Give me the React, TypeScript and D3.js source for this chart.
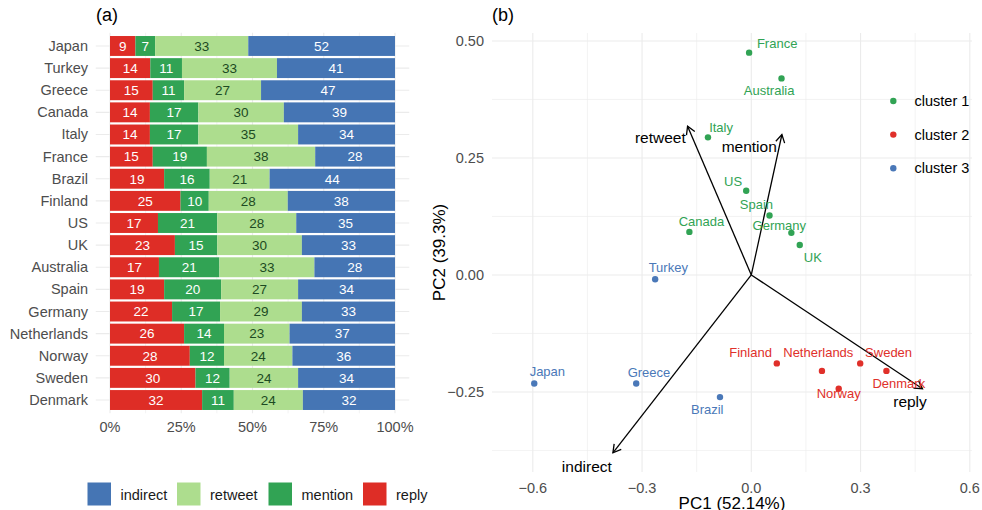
import React from "react";
import * as d3 from "d3";

const countries = ["Japan","Turkey","Greece","Canada","Italy","France","Brazil","Finland","US","UK","Australia","Spain","Germany","Netherlands","Norway","Sweden","Denmark"];
const reply = [9,14,15,14,14,15,19,25,17,23,17,19,22,26,28,30,32];
const mention = [7,11,11,17,17,19,16,10,21,15,21,20,17,14,12,12,11];
const retweet = [33,33,27,30,35,38,21,28,28,30,33,27,29,23,24,24,24];
const indirect = [52,41,47,39,34,28,44,38,35,33,28,34,33,37,36,34,32];
const xTicksA = [0, 0.25, 0.5, 0.75, 1];
const xTickLabelsA = ["0%","25%","50%","75%","100%"];

const seriesNames = ["reply","mention","retweet","indirect"];
const seriesColors = ["#de2d26","#31a354","#addd8e","#4575b4"];
const labelColors = ["#ffffff","#ffffff","#1c4a22","#ffffff"];
const legendOrder = ["indirect","retweet","mention","reply"];

// PCA biplot
const pcaNames = ["France","Australia","Italy","US","Spain","Germany","UK","Canada","Turkey","Japan","Greece","Brazil","Finland","Netherlands","Sweden","Norway","Denmark"];
const pc1 = [-0.006,0.083,-0.119,-0.014,0.050,0.110,0.133,-0.170,-0.264,-0.596,-0.316,-0.086,0.070,0.194,0.299,0.240,0.371];
const pc2 = [0.475,0.420,0.294,0.180,0.127,0.090,0.064,0.092,-0.009,-0.232,-0.232,-0.261,-0.189,-0.205,-0.189,-0.243,-0.205];
const cluster = [1,1,1,1,1,1,1,1,3,3,3,3,2,2,2,2,2];
const labX = [0.071,0.049,-0.083,-0.050,0.014,0.077,0.169,-0.137,-0.228,-0.560,-0.281,-0.121,-0.002,0.184,0.377,0.240,0.405];
const labY = [0.494,0.394,0.316,0.200,0.150,0.105,0.038,0.115,0.017,-0.207,-0.209,-0.287,-0.165,-0.165,-0.165,-0.253,-0.232];
const clusterColors = ["#31a354","#e0302a","#4a78b8"];
const clusterNames = ["cluster 1","cluster 2","cluster 3"];

const loadNames = ["retweet","mention","indirect","reply"];
const load1 = [-0.175,0.084,-0.380,0.470];
const load2 = [0.318,0.300,-0.380,-0.243];
const loadLabX = [-0.180,0.070,-0.383,0.482];
const loadLabY = [0.293,0.274,-0.410,-0.271];

const xTicksB = [-0.6,-0.3,0,0.3,0.6];
const xMinorB = [-0.45,-0.15,0.15,0.45];
const yTicksB = [-0.25,0,0.25,0.5];
const yMinorB = [-0.375,-0.125,0.125,0.375];

const FONT = "'Liberation Sans', Arial, Helvetica, sans-serif";
const GRID = "#ebebeb";
const TICK = "#4d4d4d";
const fmtMinus = (s: string) => s.replace("-", "\u2212");

export default function App() {
  // Panel A
  const ax = d3.scaleLinear().domain([0, 1]).range([110, 395]);
  const aPanelX = [ax(-0.05), ax(1.05)];
  const ay = d3.scaleBand<string>().domain(countries).range([32.7, 413.3]).paddingInner(0.1).paddingOuter(0.15);
  const aTop = 32.7, aBot = 413.3;

  const rows = countries.map((c, i) => {
    const vals = [reply[i], mention[i], retweet[i], indirect[i]];
    const total = d3.sum(vals);
    let cum = 0;
    return vals.map((v, k) => {
      const x0 = cum / total;
      cum += v;
      const x1 = cum / total;
      return { c, v, k, x0, x1 };
    });
  });

  // Panel B
  const bx = d3.scaleLinear().domain([-0.712, 0.606]).range([492, 972]);
  const by = d3.scaleLinear().domain([-0.421, 0.517]).range([472, 33]);
  const bxr = bx.range(), byr = by.range();
  const ox = bx(0), oy = by(0);

  const arrowHead = (x1: number, y1: number) => {
    const ang = Math.atan2(y1 - oy, x1 - ox);
    const L = 9, a = Math.PI / 6;
    const p1 = [x1 - L * Math.cos(ang - a), y1 - L * Math.sin(ang - a)];
    const p2 = [x1 - L * Math.cos(ang + a), y1 - L * Math.sin(ang + a)];
    return `M${p1[0]},${p1[1]}L${x1},${y1}L${p2[0]},${p2[1]}`;
  };

  const legendKeysX = [87.5, 177, 268.5, 363];

  return (
    <svg width={982} height={510} style={{ position: "absolute", left: 0, top: 0, fontFamily: FONT }}>
      <rect width={982} height={510} fill="#fff" />
      {/* Panel A */}
      <text x={96} y={21} fontSize={18} fill="#000">(a)</text>
      {countries.map((c) => (
        <line key={"hg" + c} x1={aPanelX[0]} x2={aPanelX[1]} y1={(ay(c) ?? 0) + ay.bandwidth() / 2} y2={(ay(c) ?? 0) + ay.bandwidth() / 2} stroke={GRID} strokeWidth={1.1} />
      ))}
      {[0.125, 0.375, 0.625, 0.875].map((t) => (
        <line key={"vm" + t} x1={ax(t)} x2={ax(t)} y1={aTop} y2={aBot} stroke={GRID} strokeWidth={0.6} />
      ))}
      {xTicksA.map((t) => (
        <line key={"vg" + t} x1={ax(t)} x2={ax(t)} y1={aTop} y2={aBot} stroke={GRID} strokeWidth={1.1} />
      ))}
      {rows.map((segs, i) =>
        segs.map((s) => {
          const y0 = ay(s.c) ?? 0;
          return (
            <g key={s.c + s.k}>
              <rect x={ax(s.x0)} y={y0} width={ax(s.x1) - ax(s.x0)} height={ay.bandwidth()} fill={seriesColors[s.k]} />
              <text x={(ax(s.x0) + ax(s.x1)) / 2} y={y0 + ay.bandwidth() / 2 + 4.8} textAnchor="middle" fontSize={13.5} fill={labelColors[s.k]}>{s.v}</text>
            </g>
          );
        })
      )}
      {countries.map((c) => (
        <text key={"yl" + c} x={88} y={(ay(c) ?? 0) + ay.bandwidth() / 2 + 5} textAnchor="end" fontSize={14.5} fill={TICK}>{c}</text>
      ))}
      {xTicksA.map((t, i) => (
        <text key={"xl" + t} x={ax(t)} y={431.5} textAnchor="middle" fontSize={14.5} fill={TICK}>{xTickLabelsA[i]}</text>
      ))}
      {legendOrder.map((n, i) => {
        const k = seriesNames.indexOf(n);
        return (
          <g key={"lg" + n}>
            <rect x={legendKeysX[i]} y={482.5} width={23.5} height={23} fill={seriesColors[k]} />
            <text x={legendKeysX[i] + 33} y={500} fontSize={14.5} fill="#1a1a1a">{n}</text>
          </g>
        );
      })}

      {/* Panel B */}
      <text x={492} y={21} fontSize={18} fill="#000">(b)</text>
      {yMinorB.map((t) => (
        <line key={"bym" + t} x1={bxr[0]} x2={bxr[1]} y1={by(t)} y2={by(t)} stroke={GRID} strokeWidth={0.6} />
      ))}
      {xMinorB.map((t) => (
        <line key={"bxm" + t} x1={bx(t)} x2={bx(t)} y1={byr[0]} y2={byr[1]} stroke={GRID} strokeWidth={0.6} />
      ))}
      {yTicksB.map((t) => (
        <line key={"byg" + t} x1={bxr[0]} x2={bxr[1]} y1={by(t)} y2={by(t)} stroke={GRID} strokeWidth={1.1} />
      ))}
      {xTicksB.map((t) => (
        <line key={"bxg" + t} x1={bx(t)} x2={bx(t)} y1={byr[0]} y2={byr[1]} stroke={GRID} strokeWidth={1.1} />
      ))}
      {yTicksB.map((t) => (
        <text key={"byl" + t} x={484} y={by(t) + 5} textAnchor="end" fontSize={14.5} fill={TICK}>{fmtMinus(d3.format(".2f")(t))}</text>
      ))}
      {xTicksB.map((t) => (
        <text key={"bxl" + t} x={bx(t)} y={493} textAnchor="middle" fontSize={14.5} fill={TICK}>{fmtMinus(d3.format(".1f")(t))}</text>
      ))}
      <text x={(bxr[0] + bxr[1]) / 2} y={509} textAnchor="middle" fontSize={17} fill="#000">PC1 (52.14%)</text>
      <text transform={`translate(445,${(byr[0] + byr[1]) / 2}) rotate(-90)`} textAnchor="middle" fontSize={17} fill="#000">PC2 (39.3%)</text>

      {loadNames.map((n, i) => {
        const x1 = bx(load1[i]), y1 = by(load2[i]);
        return (
          <g key={"ld" + n}>
            <line x1={ox} y1={oy} x2={x1} y2={y1} stroke="#000" strokeWidth={1.3} />
            <path d={arrowHead(x1, y1)} fill="none" stroke="#000" strokeWidth={1.3} />
          </g>
        );
      })}
      {pcaNames.map((n, i) => (
        <circle key={"pt" + n} cx={bx(pc1[i])} cy={by(pc2[i])} r={3.2} fill={clusterColors[cluster[i] - 1]} />
      ))}
      {pcaNames.map((n, i) => (
        <text key={"pl" + n} x={bx(labX[i])} y={by(labY[i]) + 4.5} textAnchor="middle" fontSize={13} fill={clusterColors[cluster[i] - 1]}>{n}</text>
      ))}
      {loadNames.map((n, i) => (
        <text key={"ll" + n} x={bx(loadLabX[i])} y={by(loadLabY[i]) + 5.5} textAnchor="end" fontSize={15.5} fill="#000">{n}</text>
      ))}
      {clusterNames.map((n, i) => (
        <g key={"cl" + n}>
          <circle cx={893.3} cy={101 + i * 33.6} r={3.2} fill={clusterColors[i]} />
          <text x={914.5} y={101 + i * 33.6 + 5} fontSize={14.5} fill="#000">{n}</text>
        </g>
      ))}
    </svg>
  );
}
